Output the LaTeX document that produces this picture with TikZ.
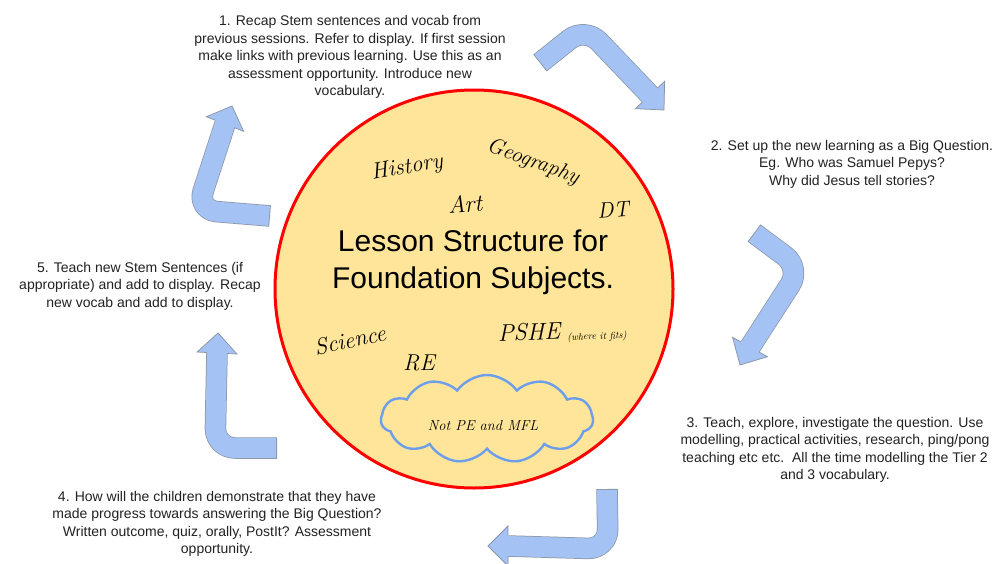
\documentclass[tikz,border=0pt]{standalone}
\usepackage{fontspec}
\setmainfont{Liberation Sans}
\newfontfamily\hand{Latin Modern Roman}
\usetikzlibrary{calc,shapes.symbols}
\definecolor{arrowblue}{HTML}{A4C2F4}
\definecolor{edgegray}{HTML}{8A96A6}
\definecolor{circfill}{HTML}{FFE599}
\definecolor{cloudblue}{HTML}{6D9EEB}
\definecolor{txt}{HTML}{222222}
\tikzset{
  arrowedge/.style={line width=21.5pt, draw=edgegray, rounded corners=20pt, line join=round},
  arrowbody/.style={line width=20pt, draw=arrowblue, rounded corners=20pt, line join=round, shorten <=0.9pt, shorten >=-1.5pt},
  arrowtip/.style={fill=arrowblue, draw=edgegray, line width=0.75pt, line join=miter},
  note/.style={align=center, inner sep=0pt, text=txt, font=\fontsize{14}{17.4}\selectfont},
  handw/.style={inner sep=0pt, text=black, font=\hand\itshape\fontsize{#1}{#1}\selectfont},
}
\newcommand{\bentarrow}[4]{%
  \draw[arrowedge] (#1) -- (#2) -- (#3);
  \filldraw[arrowtip] ($(#3)!20pt!90:(#4)$) -- (#4) -- ($(#3)!20pt!-90:(#4)$) -- cycle;
  \draw[arrowbody] (#1) -- (#2) -- (#3);
}
\begin{document}
\begin{tikzpicture}[x=1pt,y=-1pt]
\useasboundingbox[fill=white] (0,0) rectangle (999,563);

% central circle
\node[circle, draw=red, fill=circfill, line width=3pt, minimum size=398pt, inner sep=0pt] (circ) at (474,289) {};

% title
\node[align=center, inner sep=0pt, text=black, font=\fontsize{30}{37}\selectfont] (title) at (473,262) {Lesson Structure for\\Foundation Subjects.};

% handwritten subjects
\node[handw=23, rotate=10] (history) at (407,168) {History};
\node[handw=22, rotate=-20] (geog) at (533,162) {Geography};
\node[handw=24, rotate=4] (art) at (465,204) {Art};
\node[handw=22, rotate=5] (dt) at (613,210) {DT};
\node[handw=23, rotate=12] (science) at (350,340) {Science};
\node[handw=23] (re) at (419,363) {RE};
\node[handw=24, rotate=2] (pshe) at (529,332) {PSHE};
\node[handw=10, rotate=2] (fits) at (597,337) {(where it fits)};

% cloud
\node[cloud, draw=cloudblue, line width=2.4pt, cloud puffs=11, cloud puff arc=110, aspect=2.4, minimum width=212pt, minimum height=88pt, inner sep=0pt] (cloud) at (487,419) {};
\node[handw=14.5] (notpe) at (483,426) {Not PE and MFL};

% bent arrows
\coordinate (t1) at (540,63);  \coordinate (c1) at (585,27);  \coordinate (b1) at (650,95);  \coordinate (p1) at (664,110);
\coordinate (t2) at (754,233); \coordinate (c2) at (801,268); \coordinate (b2) at (750,347); \coordinate (p2) at (740,365);
\coordinate (t3) at (607,489); \coordinate (c3) at (608,549); \coordinate (b3) at (508,546); \coordinate (p3) at (488,546);
\coordinate (t4) at (277,448); \coordinate (c4) at (215,448); \coordinate (b4) at (217,353); \coordinate (p4) at (218,333);
\coordinate (t5) at (270,216); \coordinate (c5) at (197,210); \coordinate (b5) at (225,124); \coordinate (p5) at (232,106);
\bentarrow{t1}{c1}{b1}{p1}
\bentarrow{t2}{c2}{b2}{p2}
\bentarrow{t3}{c3}{b3}{p3}
\bentarrow{t4}{c4}{b4}{p4}
\bentarrow{t5}{c5}{b5}{p5}

% step texts
\node[note] (s1) at (350,57) {1. Recap Stem sentences and vocab from\\previous sessions. Refer to display. If first session\\make links with previous learning. Use this as an\\assessment opportunity. Introduce new\\vocabulary.};
\node[note] (s2) at (852,164) {2. Set up the new learning as a Big Question.\\Eg. Who was Samuel Pepys?\\Why did Jesus tell stories?};
\node[note] (s3) at (835,450) {3. Teach, explore, investigate the question. Use\\modelling, practical activities, research, ping/pong\\teaching etc etc.\ \ All the time modelling the Tier 2\\and 3 vocabulary.};
\node[note] (s4) at (217,524) {4. How will the children demonstrate that they have\\made progress towards answering the Big Question?\\Written outcome, quiz, orally, PostIt? Assessment\\opportunity.};
\node[note] (s5) at (140,286) {5. Teach new Stem Sentences (if\\appropriate) and add to display. Recap\\new vocab and add to display.};
\end{tikzpicture}
\end{document}
